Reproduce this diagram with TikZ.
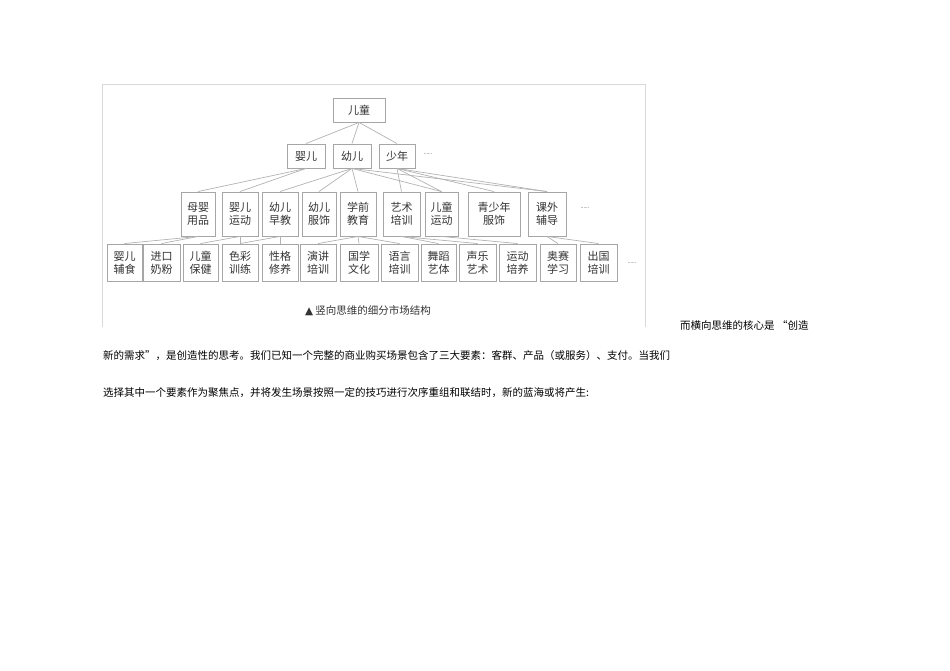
\documentclass[tikz,border=0pt]{standalone}
\usepackage{fontspec}
\setmainfont{Noto Sans CJK SC}
\newfontfamily\sym{DejaVu Sans}
\begin{document}
\begin{tikzpicture}[x=1pt,y=-1pt,
  bx/.style={draw=gray!70,line width=0.9pt,fill=white,inner sep=0pt,minimum height=#1,font=\fontsize{11}{13}\selectfont\color{black!80},align=center},
  ln/.style={draw=gray!60,line width=0.7pt},
  txt/.style={font=\fontsize{10.5}{12}\selectfont,inner sep=0pt,anchor=west}]
\useasboundingbox (0,0) rectangle (950,671);
\draw[gray!30,line width=0.8pt] (102,327) -- (102,84) -- (645,84) -- (645,327);
\newcommand\bb[5]{\node[bx=#4,minimum width={#3-#2}] (#1) at ({(#2+#3)/2},#5) {};}
% level1
\node[bx=24pt,minimum width=52pt] (r) at (359,110) {儿童};
\node[bx=24pt,minimum width=38pt] (a1) at (306,156) {婴儿};
\node[bx=24pt,minimum width=38pt] (a2) at (352,156) {幼儿};
\node[bx=24pt,minimum width=36pt] (a3) at (397,156) {少年};
\node[font=\tiny] (d1) at (428,154) {......};
% level3
\foreach \n/\l/\r/\t in {b1/181/215/母婴\\用品, b2/222/258/婴儿\\运动, b3/262/298/幼儿\\早教, b4/302/336/幼儿\\服饰, b5/340/376/学前\\教育, b6/383/420/艺术\\培训, b7/425/458/儿童\\运动, b8/468/520/青少年\\服饰, b9/528/566/课外\\辅导}
  {\node[bx=44pt,minimum width={\r-\l}] (\n) at ({(\l+\r)/2},214) {\t};}
\node[font=\tiny] (d2) at (585,208) {......};
% level4
\foreach \n/\l/\r/\t in {c1/107/142/婴儿\\辅食, c2/143/180/进口\\奶粉, c3/183/218/儿童\\保健, c4/222/258/色彩\\训练, c5/262/298/性格\\修养, c6/300/336/演讲\\培训, c7/340/378/国学\\文化, c8/381/418/语言\\培训, c9/421/456/舞蹈\\艺体, c10/459/496/声乐\\艺术, c11/499/536/运动\\培养, c12/540/576/奥赛\\学习, c13/580/617/出国\\培训}
  {\node[bx=37pt,minimum width={\r-\l}] (\n) at ({(\l+\r)/2},262.5) {\t};}
\node[font=\tiny] (d3) at (632,263) {......};
\begin{scope}[on background layer/.try]
\end{scope}
\foreach \p/\c in {r/a1,r/a2,r/a3,a1/b1,a1/b2,a2/b3,a2/b4,a2/b5,a2/b7,a2/b9,a3/b6,a3/b7,a3/b8,a3/b9,b1/c1,b1/c2,b2/c3,b2/c4,b3/c4,b3/c5,b5/c6,b5/c7,b5/c8,b6/c9,b6/c10,b7/c11,b9/c12,b9/c13}
  {\draw[ln] (\p.south) -- (\c.north);}
\node[font=\fontsize{10.5}{12}\selectfont,color=black!80] (cap) at (368,311) {{\sym ▲} 竖向思维的细分市场结构};
\node[txt] (t1) at (680,325) {而横向思维的核心是 “创造};
\node[txt] (t2) at (103,356) {新的需求”，是创造性的思考。我们已知一个完整的商业购买场景包含了三大要素：客群、产品（或服务）、支付。当我们};
\node[txt] (t3) at (103,393) {选择其中一个要素作为聚焦点，并将发生场景按照一定的技巧进行次序重组和联结时，新的蓝海或将产生:};
\end{tikzpicture}
\end{document}
